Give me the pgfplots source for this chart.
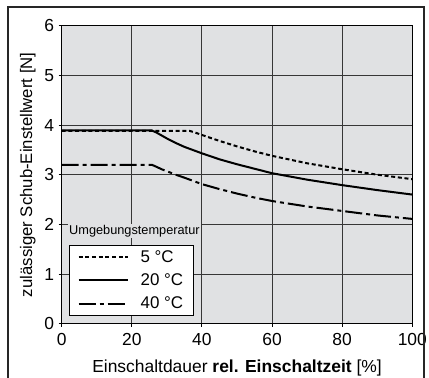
\documentclass[border=0pt]{standalone}
\usepackage{fontspec}
\setmainfont{Liberation Sans}
\usepackage{pgfplots}
\pgfplotsset{compat=1.18}
\definecolor{bg}{RGB}{224,225,227}
\definecolor{gridc}{RGB}{55,55,55}
\begin{document}
\begin{tikzpicture}
\begin{axis}[
  scale only axis,
  width=350.6bp, height=298bp,
  xmin=0, xmax=100, ymin=0, ymax=6,
  xtick={0,20,40,60,80,100},
  ytick={0,1,2,3,4,5,6},
  grid=major,
  major grid style={color=gridc, line width=1bp},
  axis line style={line width=1.2bp, black},
  axis background/.style={fill=bg},
  tick align=outside,
  major tick length=3bp,
  tick style={line width=1bp, black},
  xtick pos=bottom, ytick pos=left,
  /pgf/number format/assume math mode=true,
  tick label style={font=\fontsize{17.5}{17.5}\selectfont},
  xticklabel style={yshift=-3bp},
  yticklabel style={xshift=-1bp},
  xlabel={Einschaltdauer \textbf{rel. Einschaltzeit} [\%]},
  ylabel={zulässiger Schub-Einstellwert [N]},
  xlabel style={font=\fontsize{17.5}{17.5}\selectfont, yshift=-7bp},
  ylabel style={font=\fontsize{16.8}{16.8}\selectfont, yshift=2bp},
  legend cell align=left,
  legend style={at={(0.0208,0.0258)}, anchor=south west, draw=black, line width=1.2bp, fill=white,
    font=\fontsize{17}{17}\selectfont, inner xsep=8bp, inner ysep=3bp, row sep=6bp,
    /tikz/every odd column/.append style={column sep=10bp}},
  legend image code/.code={\draw[#1] (0bp,0bp) -- (49bp,0bp);},
]
\addplot[black, line width=2bp, dash pattern=on 4bp off 2.7bp] coordinates {
 (0,3.88) (36.6,3.88) (38,3.85) (40,3.80) (45,3.68) (50,3.57) (55,3.47) (60,3.38) (70,3.23) (80,3.11) (90,3.00) (100,2.91)};
\addlegendentry{5 °C}
\addplot[black, line width=2bp] coordinates {
 (0,3.89) (25.7,3.89) (27,3.85) (28.5,3.79) (30,3.73) (32.5,3.64) (35,3.56) (40,3.43) (45,3.31) (50,3.21) (55,3.12) (60,3.03) (70,2.90) (80,2.79) (90,2.69) (100,2.60)};
\addlegendentry{20 °C}
\addplot[black, line width=2bp, dash pattern=on 17bp off 4bp on 4bp off 4bp] coordinates {
 (0,3.20) (25.7,3.20) (27,3.16) (28.5,3.11) (30,3.07) (32.5,3.00) (35,2.94) (40,2.81) (45,2.71) (50,2.62) (55,2.54) (60,2.47) (70,2.36) (80,2.27) (90,2.18) (100,2.11)};
\addlegendentry{40 °C}
\end{axis}
\node[anchor=south west, fill=bg, inner sep=1bp, font=\fontsize{12.8}{12.8}\selectfont] at (6.3bp,85.7bp) {Umgebungstemperatur};
\draw[line width=1.2bp, black!85] (-53.7bp,-70bp) -- (-53.7bp,316.7bp) -- (362.3bp,316.7bp) -- (362.3bp,-70bp);
\pgfresetboundingbox
\useasboundingbox (-61.7bp,-54.3bp) rectangle (367.3bp,323.7bp);
\end{tikzpicture}
\end{document}
